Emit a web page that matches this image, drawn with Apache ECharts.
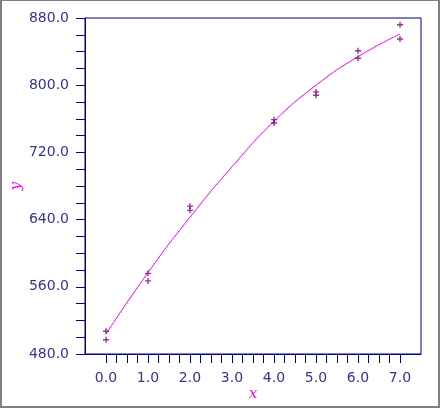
<!DOCTYPE html>
<html>
<head>
<meta charset="utf-8">
<script src="https://cdn.jsdelivr.net/npm/echarts@6/dist/echarts.min.js"></script>
<style>
html,body{margin:0;padding:0;background:#fff;}
#frame{width:440px;height:408px;box-sizing:border-box;border-style:solid;border-color:#808080;border-width:1px 2px 2px 2px;background:#fff;}
#chart{width:436px;height:405px;}
</style>
</head>
<body>
<div id="frame"><div id="chart"></div></div>
<script>
// observed data (crosses)
var obsX = [0, 0, 1, 1, 2, 2, 4, 4, 5, 5, 6, 6, 7, 7];
var obsY = [507, 497, 576, 567, 656, 651, 759, 755, 792, 788, 841, 832, 872, 855];
// fitted curve
var fitX = [0, 1, 2, 3, 4, 5, 6, 7];
var fitY = [504, 577, 643, 703, 757, 800, 834, 861];
// tick labels
var xTickLabels = [0, 1, 2, 3, 4, 5, 6, 7];
var yTicks = [480, 560, 640, 720, 800, 880];

var xMinor = [];
for (var i = 0; i <= 28; i++) xMinor.push(i * 0.25);

var navy = '#000080';
var labelColor = '#333399';
var chart = echarts.init(document.getElementById('chart'), null, {renderer: 'canvas'});
var plus = 'path://M-0.7,-3H0.7V-0.7H3V0.7H0.7V3H-0.7V0.7H-3V-0.7H-0.7Z';

chart.setOption({
  animation: false,
  backgroundColor: '#fff',
  grid: {left: 83, top: 17, width: 336, height: 336, show: true, borderColor: navy, borderWidth: 1,
    backgroundColor: 'transparent', containLabel: false, outerBoundsMode: 'none'},
  xAxis: {
    type: 'value', min: -0.5, max: 7.5,
    name: 'x', nameLocation: 'middle', nameGap: 33, nameMoveOverlap: false,
    nameTextStyle: {color: '#ff00ff', fontFamily: 'DejaVu Serif', fontStyle: 'italic', fontSize: 15},
    axisLine: {show: true, onZero: false, lineStyle: {color: navy, width: 1}},
    axisTick: {show: true, inside: false, length: 9, customValues: xMinor, lineStyle: {color: navy, width: 1}},
    axisLabel: {show: true, customValues: xTickLabels, margin: 17, color: labelColor, fontFamily: 'DejaVu Sans', fontSize: 14,
      formatter: function (v) { return v.toFixed(1); }},
    splitLine: {show: false}
  },
  yAxis: {
    type: 'value', min: 480, max: 880, interval: 80,
    name: 'y', nameLocation: 'middle', nameGap: 61, nameRotate: 90, nameMoveOverlap: false,
    nameTextStyle: {color: '#ff00ff', fontFamily: 'DejaVu Serif', fontStyle: 'italic', fontSize: 15},
    axisLine: {show: true, onZero: false, lineStyle: {color: navy, width: 1}},
    axisTick: {show: true, inside: false, length: 9, lineStyle: {color: navy, width: 1}},
    minorTick: {show: true, splitNumber: 4, length: 9, lineStyle: {color: navy, width: 1}},
    axisLabel: {show: true, margin: 16, color: labelColor, fontFamily: 'DejaVu Sans', fontSize: 14,
      formatter: function (v) { return v.toFixed(1); }},
    splitLine: {show: false}
  },
  series: [
    {
      type: 'line', smooth: true, showSymbol: false, symbol: 'none',
      lineStyle: {color: '#ff00ff', width: 1},
      data: fitX.map(function (x, i) { return [x, fitY[i]]; }),
      z: 2
    },
    {
      type: 'scatter', symbol: plus, symbolSize: 6,
      itemStyle: {color: '#800080'},
      data: obsX.map(function (x, i) { return [x, obsY[i]]; }),
      z: 3
    }
  ]
});
</script>
</body>
</html>
